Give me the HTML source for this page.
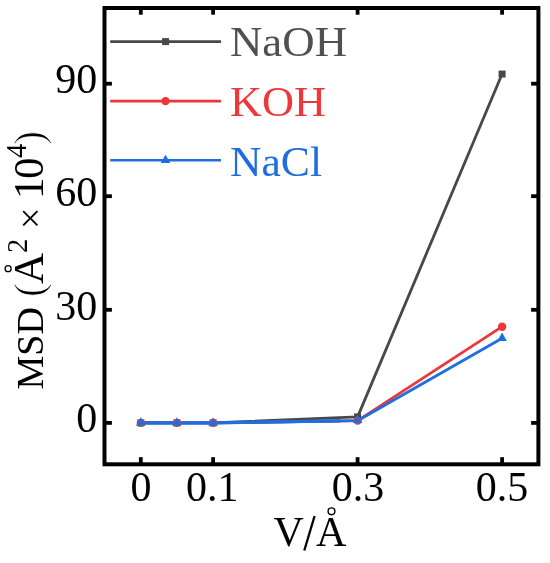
<!DOCTYPE html>
<html>
<head>
<meta charset="utf-8">
<style>
html,body{margin:0;padding:0;background:#fff;width:550px;height:563px;overflow:hidden;}
svg{display:block;}
text{font-family:"Liberation Serif",serif;}
#w{will-change:transform;width:550px;height:563px;}
</style>
</head>
<body>
<div id="w"><svg width="550" height="563" viewBox="0 0 550 563">
<rect x="0" y="0" width="550" height="563" fill="#fff"/>
<!-- data lines -->
<g fill="none" stroke-width="2.8" stroke-linejoin="round">
<polyline stroke="#484848" points="140.8,422.9 176.9,422.9 213.1,422.9 357.6,416.9 502.1,74.05"/>
<polyline stroke="#ef3639" points="140.8,422.9 176.9,422.9 213.1,422.9 357.6,420.6 502.1,326.7"/>
<polyline stroke="#1f6ee0" points="140.8,422.9 176.9,422.9 213.1,422.9 357.6,420.7 502.1,338.2"/>
<polyline stroke="#1f6ee0" stroke-width="3.2" points="140.8,422.8 213.1,422.8 340,420.9"/>
</g>
<!-- markers NaOH squares -->
<g fill="#484848">
<rect x="137.3" y="419.4" width="7" height="7"/>
<rect x="173.4" y="419.4" width="7" height="7"/>
<rect x="209.6" y="419.4" width="7" height="7"/>
<rect x="354.1" y="413.4" width="7" height="7"/>
<rect x="498.6" y="70.55" width="7" height="7"/>
</g>
<g fill="#ef3639">
<circle cx="140.8" cy="422.9" r="4.2"/>
<circle cx="176.9" cy="422.9" r="4.2"/>
<circle cx="213.1" cy="422.9" r="4.2"/>
<circle cx="357.6" cy="420.6" r="4.2"/>
<circle cx="502.1" cy="326.7" r="4.2"/>
</g>
<g fill="#1f6ee0">
<path d="M140.8,417.3 L145.6,425.7 L136,425.7 Z"/>
<path d="M176.9,417.3 L181.7,425.7 L172.1,425.7 Z"/>
<path d="M213.1,417.3 L217.9,425.7 L208.3,425.7 Z"/>
<path d="M357.6,414.6 L362.4,423.0 L352.8,423.0 Z"/>
<path d="M502.1,332.6 L506.9,341 L497.3,341 Z"/>
</g>
<!-- frame -->
<rect x="104.5" y="8" width="433.9" height="456.3" fill="none" stroke="#000" stroke-width="4"/>
<!-- ticks -->
<g stroke="#000" stroke-width="3.8">
<line x1="140.8" y1="464" x2="140.8" y2="457.2"/>
<line x1="213.1" y1="464" x2="213.1" y2="457.2"/>
<line x1="357.6" y1="464" x2="357.6" y2="457.2"/>
<line x1="502.1" y1="464" x2="502.1" y2="457.2"/>
<line x1="140.8" y1="8" x2="140.8" y2="14.7"/>
<line x1="213.1" y1="8" x2="213.1" y2="14.7"/>
<line x1="357.6" y1="8" x2="357.6" y2="14.7"/>
<line x1="502.1" y1="8" x2="502.1" y2="14.7"/>
<line x1="105" y1="422.9" x2="111.9" y2="422.9"/>
<line x1="105" y1="309.8" x2="111.9" y2="309.8"/>
<line x1="105" y1="196.2" x2="111.9" y2="196.2"/>
<line x1="105" y1="83.7" x2="111.9" y2="83.7"/>
<line x1="538" y1="422.9" x2="531.1" y2="422.9"/>
<line x1="538" y1="309.8" x2="531.1" y2="309.8"/>
<line x1="538" y1="196.2" x2="531.1" y2="196.2"/>
<line x1="538" y1="83.7" x2="531.1" y2="83.7"/>
</g>
<!-- y tick labels -->
<g font-size="42" text-anchor="end" fill="#000">
<text x="97.3" y="432">0</text>
<text x="97.3" y="319.5">30</text>
<text x="97.3" y="205.6">60</text>
<text x="97.3" y="92.8">90</text>
</g>
<!-- x tick labels -->
<g font-size="42" text-anchor="middle" fill="#000">
<text x="141" y="500.5">0</text>
<text x="212.2" y="500.5">0.1</text>
<text x="358" y="500.5">0.3</text>
<text x="502" y="500.5">0.5</text>
</g>
<!-- x title -->
<text x="273.5" y="545.5" font-size="42" fill="#000">V</text>
<line x1="304.3" y1="550.5" x2="314.6" y2="516" stroke="#000" stroke-width="2.3"/>
<text x="316" y="545.5" font-size="42" fill="#000">A</text>
<circle cx="331.5" cy="511.3" r="3.4" fill="none" stroke="#000" stroke-width="1.4"/>
<!-- y title -->
<g transform="rotate(-90)" fill="#000">
<text x="-389.5" y="43" font-size="38">MSD</text>
<text x="-297" y="43.1" font-size="42" stroke="#fff" stroke-width="0.9">(</text>
<text x="-284" y="43" font-size="43">A</text>
<circle cx="-268.7" cy="8.1" r="3.0" fill="none" stroke="#000" stroke-width="1.3"/>
<text x="-253" y="27.2" font-size="28.6">2</text>
<text x="-229" y="43" font-size="38">×</text>
<text x="-199" y="43" font-size="43">1</text>
<text x="-179" y="43.3" font-size="43">0</text>
<text x="-158" y="25.8" font-size="28.6">4</text>
<text x="-145" y="43.1" font-size="42" stroke="#fff" stroke-width="0.9">)</text>
</g>
<!-- legend -->
<g stroke-width="2.6">
<line x1="110.2" y1="41.6" x2="221" y2="41.6" stroke="#484848"/>
<line x1="110.2" y1="101.1" x2="221" y2="101.1" stroke="#ef3639"/>
<line x1="110.2" y1="160.3" x2="221" y2="160.3" stroke="#1f6ee0"/>
</g>
<rect x="162.1" y="38.1" width="7" height="7" fill="#484848"/>
<circle cx="165.5" cy="101.1" r="4.2" fill="#ef3639"/>
<path d="M165.5,154.7 L170.3,163.1 L160.7,163.1 Z" fill="#1f6ee0"/>
<g font-size="42">
<text x="230" y="56.4" fill="#505050" textLength="117" lengthAdjust="spacingAndGlyphs">NaOH</text>
<text x="230" y="116.3" fill="#ef3639" textLength="96" lengthAdjust="spacingAndGlyphs">KOH</text>
<text x="230" y="176.3" fill="#1f6ee0" textLength="92" lengthAdjust="spacingAndGlyphs">NaCl</text>
</g>
</svg></div>
</body>
</html>
